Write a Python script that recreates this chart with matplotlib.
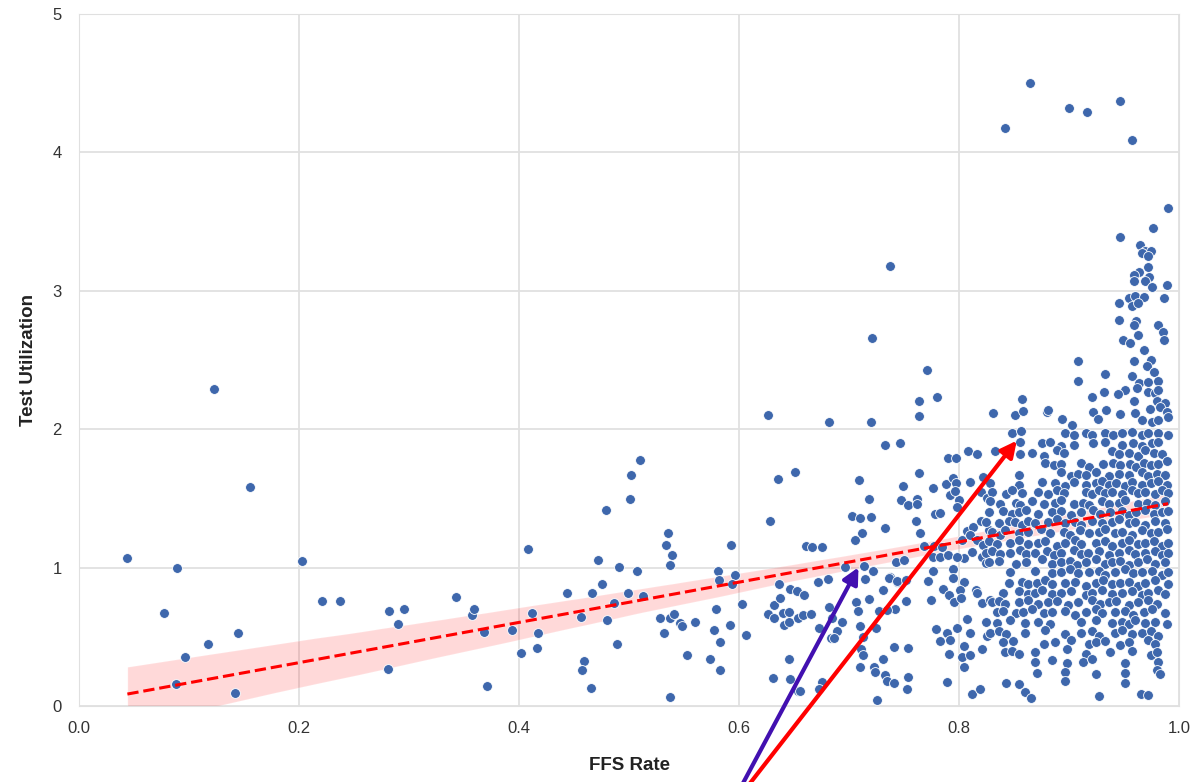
import numpy as np
import matplotlib
matplotlib.use("Agg")
import matplotlib.pyplot as plt
import seaborn as sns

# values (FFS rate, test utilization)
low_range = [
    (0.044, 1.07), (0.123, 2.29), (0.155, 1.58), (0.089, 1.00), (0.077, 0.67), (0.096, 0.355),
    (0.117, 0.45), (0.145, 0.53), (0.088, 0.157), (0.142, 0.094), (0.203, 1.05), (0.221, 0.757),
    (0.237, 0.761), (0.282, 0.69), (0.295, 0.70), (0.290, 0.59), (0.281, 0.27), (0.343, 0.79),
    (0.357, 0.66), (0.359, 0.705), (0.368, 0.533), (0.371, 0.145), (0.394, 0.547), (0.412, 0.67),
    (0.417, 0.53), (0.416, 0.417), (0.402, 0.385), (0.408, 1.137), (0.444, 0.819), (0.466, 0.819),
    (0.475, 0.88), (0.456, 0.646), (0.480, 0.622), (0.486, 0.742), (0.499, 0.815), (0.513, 0.795),
    (0.489, 0.45), (0.459, 0.325), (0.457, 0.26), (0.465, 0.13), (0.479, 1.415), (0.472, 1.058),
    (0.491, 1.005), (0.507, 0.978), (0.501, 1.50), (0.502, 1.67), (0.510, 1.78), (0.535, 1.253),
    (0.534, 1.166), (0.539, 1.09), (0.537, 1.02), (0.528, 0.634), (0.537, 0.634), (0.541, 0.665),
    (0.546, 0.60), (0.548, 0.58), (0.560, 0.605), (0.532, 0.53), (0.553, 0.371), (0.537, 0.063),
    (0.579, 0.70), (0.577, 0.547), (0.583, 0.46), (0.574, 0.338), (0.583, 0.258), (0.592, 0.583),
    (0.581, 0.976), (0.582, 0.909), (0.596, 0.945), (0.594, 0.88), (0.593, 1.166),
]

mid_range = [
    (0.603, 0.737), (0.606, 0.513), (0.626, 2.106), (0.635, 1.64), (0.628, 1.34), (0.651, 1.694),
    (0.626, 0.663), (0.632, 0.638), (0.632, 0.733), (0.631, 0.20), (0.636, 0.88), (0.646, 0.848),
    (0.653, 0.829), (0.6375, 0.783), (0.640, 0.67), (0.645, 0.68), (0.641, 0.588), (0.645, 0.605),
    (0.654, 0.634), (0.6455, 0.342), (0.6464, 0.197), (0.654, 0.108), (0.659, 0.80), (0.6585, 0.66),
    (0.665, 0.666), (0.7706, 2.43), (0.780, 2.236), (0.7636, 2.207), (0.7636, 2.097), (0.682, 2.056),
    (0.720, 2.056), (0.733, 1.884), (0.7466, 1.898), (0.8079, 1.84), (0.790, 1.795), (0.797, 1.795),
    (0.8166, 1.82), (0.7636, 1.683), (0.7088, 1.632), (0.749, 1.59), (0.7767, 1.576), (0.788, 1.605),
    (0.794, 1.65), (0.797, 1.61), (0.8097, 1.62), (0.822, 1.658), (0.7185, 1.499), (0.747, 1.49),
    (0.7533, 1.455), (0.7615, 1.497), (0.7615, 1.458), (0.792, 1.526), (0.800, 1.49), (0.7964, 1.552),
    (0.798, 1.437), (0.820, 1.55), (0.825, 1.506), (0.703, 1.374), (0.7097, 1.36), (0.7197, 1.363),
    (0.7327, 1.288), (0.761, 1.335), (0.7643, 1.253), (0.7785, 1.386), (0.7827, 1.398), (0.712, 1.248),
    (0.705, 1.203), (0.6605, 1.159), (0.666, 1.153), (0.6755, 1.153), (0.807, 1.265), (0.8124, 1.297),
    (0.8203, 1.34), (0.8273, 1.273), (0.8027, 1.20), (0.81, 1.236), (0.816, 1.20), (0.8115, 1.116),
    (0.822, 1.164), (0.804, 1.068), (0.821, 1.08), (0.824, 1.032), (0.7685, 1.157), (0.7773, 1.157),
    (0.7843, 1.152), (0.7767, 1.08), (0.7827, 1.08), (0.7903, 1.092), (0.798, 1.08), (0.7424, 1.045),
    (0.7503, 1.055), (0.6965, 1.006), (0.7138, 1.01), (0.7213, 0.973), (0.6718, 0.90), (0.6812, 0.92),
    (0.7145, 0.918), (0.7767, 0.976), (0.7948, 0.99), (0.7715, 0.906), (0.7948, 0.923), (0.804, 0.90),
    (0.7373, 0.935), (0.7439, 0.899), (0.7312, 0.839), (0.7364, 0.923), (0.7433, 0.906), (0.7515, 0.911),
    (0.7857, 0.848), (0.7906, 0.80), (0.7955, 0.752), (0.801, 0.839), (0.8015, 0.779), (0.8155, 0.839),
    (0.816, 0.815), (0.8212, 0.747), (0.828, 0.766), (0.7743, 0.77), (0.7518, 0.763), (0.7064, 0.754),
    (0.7085, 0.69), (0.7182, 0.776), (0.7275, 0.685), (0.7421, 0.702), (0.7342, 0.694), (0.6818, 0.718),
    (0.6843, 0.634), (0.6888, 0.544), (0.6934, 0.61), (0.6727, 0.562), (0.6835, 0.49), (0.686, 0.49),
    (0.7127, 0.501), (0.71, 0.581), (0.6557, 0.11), (0.675, 0.172), (0.673, 0.125), (0.725, 0.043),
    (0.7242, 0.562), (0.711, 0.41), (0.7127, 0.372), (0.723, 0.286), (0.7095, 0.284), (0.7306, 0.338),
    (0.7236, 0.246), (0.733, 0.226), (0.7343, 0.183), (0.741, 0.166), (0.741, 0.429), (0.7535, 0.42),
    (0.7538, 0.212), (0.753, 0.125), (0.779, 0.56), (0.7887, 0.532), (0.783, 0.468), (0.7915, 0.477),
    (0.7905, 0.375), (0.804, 0.437), (0.8024, 0.357), (0.81, 0.369), (0.804, 0.284), (0.8206, 0.41),
    (0.7888, 0.171), (0.8118, 0.085), (0.819, 0.121), (0.798, 0.562), (0.807, 0.626), (0.81, 0.527),
    (0.8257, 0.506),
]

high_range = [
    (0.848, 1.97), (0.856, 1.99), (0.896, 1.97), (0.904, 1.96), (0.915, 1.97), (0.921, 1.96),
    (0.933, 1.97), (0.940, 1.96), (0.948, 1.97), (0.957, 1.98), (0.966, 1.96), (0.972, 1.97),
    (0.981, 1.97), (0.990, 1.96),
    (0.875, 1.90), (0.883, 1.91), (0.893, 1.88), (0.904, 1.89), (0.922, 1.90), (0.933, 1.91),
    (0.948, 1.89), (0.958, 1.90), (0.966, 1.88), (0.975, 1.90), (0.981, 1.91),
    (0.833, 1.84), (0.855, 1.82), (0.866, 1.83), (0.877, 1.81), (0.889, 1.85), (0.895, 1.83),
    (0.939, 1.84), (0.945, 1.82), (0.954, 1.83), (0.963, 1.81), (0.969, 1.85), (0.977, 1.83),
    (0.984, 1.82),
    (0.878, 1.76), (0.886, 1.74), (0.893, 1.75), (0.911, 1.76), (0.918, 1.73), (0.931, 1.75),
    (0.940, 1.76), (0.946, 1.74), (0.955, 1.75), (0.961, 1.73), (0.968, 1.76), (0.974, 1.74),
    (0.981, 1.75), (0.989, 1.77),
    (0.854, 1.67), (0.893, 1.69), (0.902, 1.66), (0.908, 1.68), (0.915, 1.67), (0.924, 1.69),
    (0.936, 1.66), (0.945, 1.68), (0.954, 1.67), (0.966, 1.69), (0.972, 1.66), (0.980, 1.68),
    (0.987, 1.67),
    (0.828, 1.61), (0.854, 1.60), (0.875, 1.62), (0.887, 1.61), (0.896, 1.59), (0.904, 1.62),
    (0.915, 1.60), (0.924, 1.61), (0.930, 1.63), (0.936, 1.60), (0.943, 1.61), (0.951, 1.59),
    (0.957, 1.62), (0.966, 1.60), (0.974, 1.61), (0.981, 1.63), (0.989, 1.60),
    (0.830, 1.55), (0.843, 1.53), (0.848, 1.56), (0.857, 1.54), (0.872, 1.55), (0.881, 1.53),
    (0.889, 1.56), (0.895, 1.54), (0.915, 1.55), (0.921, 1.53), (0.927, 1.56), (0.933, 1.54),
    (0.939, 1.55), (0.948, 1.53), (0.957, 1.56), (0.963, 1.54), (0.969, 1.55), (0.978, 1.53),
    (0.984, 1.56), (0.990, 1.54),
    (0.828, 1.48), (0.837, 1.46), (0.852, 1.47), (0.855, 1.45), (0.866, 1.48), (0.877, 1.46),
    (0.887, 1.47), (0.893, 1.49), (0.904, 1.46), (0.913, 1.47), (0.918, 1.45), (0.930, 1.48),
    (0.936, 1.46), (0.945, 1.47), (0.951, 1.49), (0.963, 1.46), (0.971, 1.47), (0.978, 1.45),
    (0.987, 1.48),
    (0.827, 1.40), (0.840, 1.41), (0.848, 1.39), (0.854, 1.40), (0.861, 1.42), (0.872, 1.39),
    (0.884, 1.40), (0.893, 1.41), (0.902, 1.38), (0.911, 1.40), (0.922, 1.42), (0.928, 1.39),
    (0.937, 1.40), (0.948, 1.41), (0.954, 1.38), (0.961, 1.40), (0.969, 1.42), (0.977, 1.39),
    (0.984, 1.40), (0.990, 1.41),
    (0.824, 1.33), (0.836, 1.32), (0.845, 1.34), (0.851, 1.33), (0.857, 1.31), (0.863, 1.34),
    (0.869, 1.32), (0.881, 1.33), (0.889, 1.35), (0.896, 1.32), (0.905, 1.33), (0.911, 1.31),
    (0.921, 1.34), (0.930, 1.32), (0.939, 1.33), (0.945, 1.35), (0.954, 1.32), (0.960, 1.33),
    (0.969, 1.31), (0.978, 1.34), (0.987, 1.32),
    (0.830, 1.26), (0.837, 1.24), (0.842, 1.27), (0.854, 1.25), (0.863, 1.26), (0.874, 1.28),
    (0.883, 1.25), (0.895, 1.26), (0.901, 1.24), (0.910, 1.27), (0.918, 1.25), (0.927, 1.26),
    (0.933, 1.28), (0.942, 1.25), (0.948, 1.26), (0.957, 1.24), (0.966, 1.27), (0.974, 1.25),
    (0.981, 1.26), (0.989, 1.28),
    (0.827, 1.19), (0.834, 1.17), (0.846, 1.18), (0.854, 1.20), (0.863, 1.17), (0.872, 1.18),
    (0.878, 1.19), (0.889, 1.16), (0.896, 1.18), (0.905, 1.20), (0.911, 1.17), (0.924, 1.18),
    (0.933, 1.19), (0.939, 1.16), (0.948, 1.18), (0.954, 1.20), (0.963, 1.17), (0.969, 1.18),
    (0.977, 1.19), (0.984, 1.16), (0.990, 1.18),
    (0.824, 1.11), (0.830, 1.12), (0.837, 1.10), (0.846, 1.11), (0.855, 1.13), (0.861, 1.10),
    (0.869, 1.11), (0.880, 1.12), (0.886, 1.09), (0.893, 1.11), (0.904, 1.13), (0.911, 1.10),
    (0.917, 1.11), (0.927, 1.12), (0.936, 1.09), (0.945, 1.11), (0.954, 1.13), (0.960, 1.10),
    (0.969, 1.11), (0.978, 1.12), (0.984, 1.09), (0.990, 1.11),
    (0.827, 1.04), (0.836, 1.05), (0.852, 1.03), (0.861, 1.04), (0.875, 1.06), (0.884, 1.03),
    (0.893, 1.04), (0.901, 1.05), (0.907, 1.02), (0.915, 1.04), (0.924, 1.06), (0.933, 1.03),
    (0.939, 1.04), (0.946, 1.05), (0.954, 1.02), (0.963, 1.04), (0.971, 1.06), (0.978, 1.03),
    (0.987, 1.04),
    (0.846, 0.97), (0.869, 0.98), (0.884, 0.96), (0.893, 0.97), (0.901, 0.99), (0.908, 0.96),
    (0.918, 0.97), (0.927, 0.98), (0.933, 0.95), (0.942, 0.97), (0.951, 0.99), (0.958, 0.96),
    (0.966, 0.97), (0.975, 0.98), (0.984, 0.95), (0.990, 0.97),
    (0.845, 0.89), (0.857, 0.90), (0.863, 0.88), (0.871, 0.89), (0.878, 0.91), (0.884, 0.88),
    (0.896, 0.89), (0.905, 0.90), (0.915, 0.87), (0.924, 0.89), (0.931, 0.91), (0.939, 0.88),
    (0.946, 0.89), (0.954, 0.90), (0.963, 0.87), (0.969, 0.89), (0.978, 0.91), (0.990, 0.88),
    (0.840, 0.82), (0.854, 0.83), (0.863, 0.81), (0.869, 0.82), (0.875, 0.84), (0.884, 0.81),
    (0.893, 0.82), (0.902, 0.83), (0.915, 0.80), (0.921, 0.82), (0.930, 0.84), (0.939, 0.81),
    (0.948, 0.82), (0.957, 0.83), (0.966, 0.80), (0.972, 0.82), (0.981, 0.84), (0.987, 0.81),
    (0.830, 0.75), (0.836, 0.76), (0.842, 0.74), (0.854, 0.75), (0.863, 0.77), (0.872, 0.74),
    (0.881, 0.75), (0.889, 0.76), (0.899, 0.73), (0.908, 0.75), (0.921, 0.77), (0.928, 0.74),
    (0.936, 0.75), (0.943, 0.76), (0.954, 0.73), (0.963, 0.75), (0.972, 0.77), (0.980, 0.74),
    (0.834, 0.68), (0.840, 0.69), (0.852, 0.67), (0.858, 0.68), (0.866, 0.70), (0.877, 0.67),
    (0.884, 0.68), (0.896, 0.69), (0.905, 0.66), (0.915, 0.68), (0.924, 0.70), (0.930, 0.67),
    (0.942, 0.68), (0.951, 0.69), (0.958, 0.66), (0.968, 0.68), (0.975, 0.70), (0.987, 0.67),
    (0.824, 0.61), (0.834, 0.60), (0.846, 0.62), (0.860, 0.60), (0.872, 0.61), (0.883, 0.59),
    (0.911, 0.61), (0.924, 0.62), (0.939, 0.60), (0.948, 0.61), (0.954, 0.59), (0.960, 0.62),
    (0.969, 0.60), (0.978, 0.61), (0.989, 0.59),
    (0.828, 0.53), (0.836, 0.54), (0.843, 0.52), (0.860, 0.53), (0.878, 0.55), (0.896, 0.52),
    (0.911, 0.53), (0.921, 0.54), (0.927, 0.51), (0.942, 0.53), (0.948, 0.55), (0.957, 0.52),
    (0.966, 0.53), (0.974, 0.54), (0.981, 0.51),
    (0.840, 0.46), (0.849, 0.47), (0.877, 0.45), (0.887, 0.46), (0.902, 0.48), (0.918, 0.45),
    (0.924, 0.46), (0.933, 0.47), (0.946, 0.44), (0.954, 0.46), (0.972, 0.48), (0.978, 0.45),
    (0.842, 0.39), (0.848, 0.40), (0.854, 0.38), (0.869, 0.39), (0.898, 0.41), (0.915, 0.38),
    (0.937, 0.39), (0.957, 0.40), (0.974, 0.37), (0.980, 0.39),
    (0.869, 0.32), (0.884, 0.33), (0.898, 0.31), (0.913, 0.32), (0.921, 0.34), (0.951, 0.31),
    (0.981, 0.32),
    (0.871, 0.24), (0.896, 0.25), (0.924, 0.23), (0.951, 0.24), (0.980, 0.26), (0.983, 0.23),
    (0.843, 0.17), (0.854, 0.16), (0.896, 0.18), (0.951, 0.17),
    (0.860, 0.10), (0.865, 0.06), (0.927, 0.07), (0.965, 0.09), (0.972, 0.08),
]

upper_tail = [
    (0.990, 3.598), (0.976, 3.451), (0.9466, 3.386), (0.9645, 3.333), (0.969, 3.285), (0.9742, 3.285),
    (0.966, 3.273), (0.972, 3.249), (0.972, 3.172), (0.9639, 3.14), (0.959, 3.116), (0.973, 3.104),
    (0.9594, 3.075), (0.969, 3.068), (0.9757, 3.027), (0.9888, 3.044), (0.954, 2.948), (0.96, 2.965),
    (0.9676, 2.953), (0.957, 2.892), (0.9624, 2.916), (0.9454, 2.916), (0.9863, 2.948), (0.9454, 2.791),
    (0.9609, 2.779), (0.9585, 2.755), (0.9812, 2.755), (0.9851, 2.70), (0.9863, 2.642), (0.9624, 2.683),
    (0.9488, 2.646), (0.9554, 2.622), (0.9681, 2.574), (0.9085, 2.497), (0.9085, 2.35), (0.959, 2.49),
    (0.9742, 2.502), (0.9706, 2.454), (0.9775, 2.417), (0.957, 2.386), (0.9812, 2.352), (0.9636, 2.333),
    (0.972, 2.345), (0.9327, 2.398), (0.9615, 2.297), (0.972, 2.273), (0.978, 2.261), (0.981, 2.285),
    (0.9509, 2.285), (0.9448, 2.256), (0.932, 2.266), (0.9206, 2.237), (0.9585, 2.208), (0.9797, 2.208),
    (0.9873, 2.188), (0.9827, 2.16), (0.9736, 2.145), (0.9888, 2.128), (0.857, 2.22), (0.8306, 2.12),
    (0.851, 2.10), (0.8585, 2.13), (0.8797, 2.123), (0.8812, 2.14), (0.8939, 2.077), (0.903, 2.032),
    (0.9221, 2.128), (0.9266, 2.073), (0.9333, 2.136), (0.9463, 2.111), (0.96, 2.116), (0.966, 2.068),
    (0.9751, 2.056), (0.9812, 2.068), (0.9897, 2.087), (0.855, 1.91),
]

outliers = [(0.864, 4.50), (0.842, 4.18), (0.900, 4.32), (0.916, 4.29), (0.946, 4.37),
            (0.957, 4.09), (0.737, 3.18), (0.721, 2.66)]

points = low_range + mid_range + high_range + upper_tail + outliers
ffs_rate = np.array([p[0] for p in points])
test_util = np.array([p[1] for p in points])

# arrow heads (data units) and tails (figure pixels, below the canvas)
purple_head, purple_tail = (0.7085, 1.003), (734, -18)
red_head, red_tail = (0.8524, 1.918), (737, -18)

sns.set_style("whitegrid", {"grid.color": "#e0e0e0", "axes.edgecolor": "#e0e0e0"})
plt.rcParams["font.family"] = ["Liberation Sans", "DejaVu Sans"]

fig, ax = plt.subplots(figsize=(12.02, 7.82), dpi=100)
fig.subplots_adjust(left=0.0657, right=0.981, bottom=0.097, top=0.982)

sns.scatterplot(x=ffs_rate, y=test_util, color="#3e67ac", s=50,
                edgecolor="white", linewidth=0.6, ax=ax, zorder=2)
sns.regplot(x=ffs_rate, y=test_util, scatter=False, color="red", ci=95, seed=1,
            line_kws={"ls": "--", "lw": 2.2}, ax=ax)

ax.set_xlim(0, 1.0)
ax.set_ylim(0, 5)
ax.set_xticks(np.arange(0, 1.01, 0.2))
ax.set_yticks(range(0, 6))
ax.tick_params(axis="both", labelsize=12, labelcolor="#333333")
ax.tick_params(axis="x", pad=7)
ax.tick_params(axis="y", pad=9)
ax.grid(True, lw=1.3)
ax.set_xlabel("FFS Rate", fontsize=13.5, fontweight="bold", color="#222222", labelpad=15)
ax.set_ylabel("Test Utilization", fontsize=13.5, fontweight="bold", color="#222222", labelpad=11)

for head, tail, col in [(purple_head, purple_tail, "#4210b0"), (red_head, red_tail, "red")]:
    ax.annotate("", xy=head, xycoords="data", xytext=tail, textcoords="figure pixels",
                arrowprops=dict(arrowstyle="-|>", color=col, lw=3, mutation_scale=24,
                                shrinkA=0, shrinkB=0),
                annotation_clip=False)

plt.savefig("out.png", dpi=100)
